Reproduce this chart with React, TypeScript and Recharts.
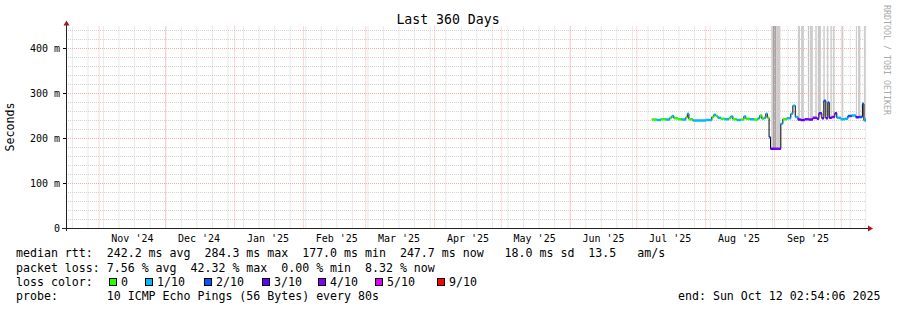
import React from "react";
import { ComposedChart, Line, XAxis, YAxis, ReferenceLine, ReferenceArea } from "recharts";

const FONT = "'DejaVu Sans Mono', monospace";
const DAY = 86400000;
const END = Date.UTC(2025, 9, 12, 2, 54, 6);
const START = END - 360 * DAY;

// median rtt steps (start time, ms, lost pings out of 10)
const sampleTimes = [
  "2025-07-07T18:00", "2025-07-10T00:00", "2025-07-11T19:00", "2025-07-14T01:00", "2025-07-15T20:00",
  "2025-07-16T18:00", "2025-07-17T16:00", "2025-07-19T11:00", "2025-07-21T06:00", "2025-07-23T01:00",
  "2025-07-23T17:00", "2025-07-24T10:00", "2025-07-26T05:00", "2025-07-29T19:00", "2025-08-01T01:00",
  "2025-08-03T18:00", "2025-08-04T16:00", "2025-08-05T13:00", "2025-08-06T11:00", "2025-08-07T19:00",
  "2025-08-09T14:00", "2025-08-11T10:00", "2025-08-12T07:00", "2025-08-13T05:00", "2025-08-15T00:00",
  "2025-08-16T19:00", "2025-08-18T04:00", "2025-08-19T01:00", "2025-08-20T20:00", "2025-08-22T16:00",
  "2025-08-24T11:00", "2025-08-25T08:00", "2025-08-26T06:00", "2025-08-27T04:00", "2025-08-28T01:00",
  "2025-08-28T17:00", "2025-08-29T12:00", "2025-08-30T04:00", "2025-09-01T13:00", "2025-09-03T19:00",
  "2025-09-04T17:00", "2025-09-06T12:00", "2025-09-08T07:00", "2025-09-09T05:00", "2025-09-10T07:00",
  "2025-09-11T11:00", "2025-09-12T19:00", "2025-09-14T14:00", "2025-09-16T10:00", "2025-09-18T05:00",
  "2025-09-20T00:00", "2025-09-20T22:00", "2025-09-22T06:00", "2025-09-23T04:00", "2025-09-24T01:00",
  "2025-09-24T23:00", "2025-09-25T14:00", "2025-09-26T18:00", "2025-09-28T02:00", "2025-09-29T00:00",
  "2025-09-30T19:00", "2025-10-02T14:00", "2025-10-03T23:00", "2025-10-05T18:00", "2025-10-07T13:00",
  "2025-10-08T22:00", "2025-10-10T12:00", "2025-10-11T04:00", "2025-10-12T01:00",
];
const medianRtt = [
  242, 241, 243, 242, 246, 250, 245, 243, 242, 247,
  255, 243, 240, 240, 241, 248, 253, 250, 246, 244,
  243, 245, 249, 243, 241, 242, 249, 244, 243, 242,
  245, 251, 244, 246, 255, 246, 203, 177, 177, 233,
  243, 245, 255, 273, 248, 242, 241, 243, 242, 246,
  244, 256, 245, 284, 245, 280, 246, 248, 256, 246,
  243, 244, 250, 251, 247, 248, 277, 240, 244,
];
const lossLevel = [
  0, 1, 0, 1, 0, 1, 0, 0, 1, 0,
  1, 0, 1, 1, 1, 0, 1, 0, 1, 0,
  1, 0, 1, 0, 1, 0, 1, 0, 1, 0,
  1, 0, 0, 1, 1, 0, 2, 3, 4, 1,
  0, 1, 1, 1, 1, 3, 3, 4, 3, 4,
  3, 4, 3, 2, 3, 2, 3, 4, 3, 1,
  1, 1, 2, 1, 3, 2, 2, 1, 1,
];

// smoke (ping spread) columns reaching off the top
const smokeFrom = [
  "2025-08-30T12:00", "2025-08-31T05:00", "2025-09-01T19:00", "2025-09-11T11:00", "2025-09-12T22:00",
  "2025-09-15T23:00", "2025-09-16T20:00", "2025-09-19T07:00", "2025-09-20T10:00", "2025-09-22T22:00",
  "2025-09-24T12:00", "2025-09-26T02:00", "2025-09-27T05:00", "2025-10-01T06:00", "2025-10-07T13:00",
  "2025-10-08T12:00", "2025-10-11T04:00",
];
const smokeTo = [
  "2025-08-31T05:00", "2025-09-01T19:00", "2025-09-03T14:00", "2025-09-12T10:00", "2025-09-14T04:00",
  "2025-09-16T12:00", "2025-09-18T05:00", "2025-09-19T23:00", "2025-09-21T19:00", "2025-09-23T14:00",
  "2025-09-25T05:00", "2025-09-26T18:00", "2025-09-27T22:00", "2025-10-01T22:00", "2025-10-08T02:00",
  "2025-10-09T14:00", "2025-10-12T00:00",
];
const smokeLow = [177, 177, 177, 245, 245, 245, 245, 248, 248, 250, 250, 248, 248, 244, 248, 248, 244];
const smokeFill = [
  "#cccccc", "#a4a4a4", "#cccccc", "#cccccc", "#cccccc",
  "#c4c4c4", "#cccccc", "#cccccc", "#c4c4c4", "#cccccc",
  "#cccccc", "#cccccc", "#cccccc", "#cccccc", "#cccccc",
  "#cccccc", "#cccccc",
];

const lossLevels = [0, 1, 2, 3, 4, 5, 9];
const lossLabels = ["0", "1/10", "2/10", "3/10", "4/10", "5/10", "9/10"];
const lossColors = ["#26ff00", "#00b8ff", "#0059ff", "#5e00ff", "#7e00ff", "#dd00ff", "#ff0000"];

const monthLabels = ["Nov '24", "Dec '24", "Jan '25", "Feb '25", "Mar '25", "Apr '25", "May '25", "Jun '25", "Jul '25", "Aug '25", "Sep '25"];
const monthStarts = [
  Date.UTC(2024, 10, 1), Date.UTC(2024, 11, 1), Date.UTC(2025, 0, 1), Date.UTC(2025, 1, 1),
  Date.UTC(2025, 2, 1), Date.UTC(2025, 3, 1), Date.UTC(2025, 4, 1), Date.UTC(2025, 5, 1),
  Date.UTC(2025, 6, 1), Date.UTC(2025, 7, 1), Date.UTC(2025, 8, 1), Date.UTC(2025, 9, 1),
];
const labelTicks = monthLabels.map((_, i) => monthStarts[i] + 15 * DAY);

const yTicks = [0, 100, 200, 300, 400];
const minorY = [20, 40, 60, 80, 120, 140, 160, 180, 220, 240, 260, 280, 320, 340, 360, 380, 420, 440];
const weekLines: number[] = [];
for (let t = Date.UTC(2024, 9, 20); t <= END; t += 7 * DAY) weekLines.push(t);

const toMs = (s: string) => new Date(s + "Z").getTime();

// step rows: each sample draws a flat coloured piece, black line joins them
const rows: any[] = [];
sampleTimes.forEach((s, i) => {
  const t0 = toMs(s);
  const t1 = i + 1 < sampleTimes.length ? toMs(sampleTimes[i + 1]) : END;
  const v = medianRtt[i];
  const key = `l${lossLevel[i]}`;
  rows.push({ t: t0, med: v, [key]: v });
  rows.push({ t: t1, med: v, [key]: v });
  rows.push({ t: t1, med: v });
});

const GRID = "#d2d2d2";
const MGRID = "#f4acac";
const ARROW = "#9c1c1c";

const legendRows = [
  { y: 257, text: "median rtt:  242.2 ms avg  284.3 ms max  177.0 ms min  247.7 ms now   18.0 ms sd  13.5   am/s" },
  { y: 271.5, text: "packet loss: 7.56 % avg  42.32 % max  0.00 % min  8.32 % now" },
  { y: 286, text: "loss color:" },
  { y: 300, text: "probe:       10 ICMP Echo Pings (56 Bytes) every 80s" },
];
const boxX = [109, 145, 204, 262, 318, 375, 437];

export default function App() {
  return (
    <div style={{ position: "absolute", left: 0, top: 0, width: 897, height: 310, background: "#fff" }}>
      <ComposedChart
        width={897}
        height={310}
        data={rows}
        margin={{ top: 26, right: 31, bottom: 61.5, left: 0 }}
      >
        <XAxis
          dataKey="t"
          type="number"
          domain={[START, END]}
          allowDataOverflow
          ticks={labelTicks}
          tickFormatter={(v: number) => monthLabels[labelTicks.indexOf(v)] ?? ""}
          axisLine={false}
          tickLine={false}
          tickSize={0}
          tickMargin={6}
          height={20}
          interval={0}
          tick={{ fontFamily: FONT, fontSize: 10, fill: "#000" }}
        />
        <YAxis
          type="number"
          domain={[0, 450]}
          allowDataOverflow
          ticks={yTicks}
          tickFormatter={(v: number) => (v === 0 ? "0" : `${v} m`)}
          axisLine={false}
          tickLine={{ stroke: "#000" }}
          tickSize={3}
          tickMargin={3}
          width={66}
          interval={0}
          tick={{ fontFamily: FONT, fontSize: 10, fill: "#000" }}
        />
        {smokeFrom.map((s, i) => (
          <ReferenceArea
            key={`smoke-${i}`}
            x1={toMs(s)}
            x2={toMs(smokeTo[i])}
            y1={smokeLow[i]}
            y2={450}
            fill={smokeFill[i]}
            fillOpacity={1}
            stroke="none"
          />
        ))}
        {minorY.map((v) => (
          <ReferenceLine key={`gy-${v}`} y={v} stroke={GRID} strokeDasharray="1 1" />
        ))}
        {weekLines.map((t) => (
          <ReferenceLine key={`gx-${t}`} x={t} stroke={GRID} strokeDasharray="1 1" />
        ))}
        {yTicks.slice(1).map((v) => (
          <ReferenceLine key={`my-${v}`} y={v} stroke={MGRID} strokeDasharray="1 1" />
        ))}
        {monthStarts.map((t) => (
          <ReferenceLine key={`mx-${t}`} x={t} stroke={MGRID} strokeDasharray="1 1" />
        ))}
        <Line dataKey="med" type="linear" stroke="#000" strokeWidth={1} dot={false} isAnimationActive={false} />
        {lossLevels.map((lvl, i) => (
          <Line
            key={`loss-${lvl}`}
            dataKey={`l${lvl}`}
            type="linear"
            stroke={lossColors[i]}
            strokeWidth={2.5}
            dot={false}
            isAnimationActive={false}
          />
        ))}
      </ComposedChart>

      <svg width={897} height={310} style={{ position: "absolute", left: 0, top: 0, pointerEvents: "none" }}>
        <text x={448} y={24} textAnchor="middle" fontFamily={FONT} fontSize={13.2} fill="#000">
          Last 360 Days
        </text>
        <text x={13.5} y={127} transform="rotate(-90 13.5 127)" textAnchor="middle" fontFamily={FONT} fontSize={11.6} fill="#000">
          Seconds
        </text>
        <text x={884} y={5} transform="rotate(90 884 5)" fontFamily={FONT} fontSize={8.3} fill="#aaaaaa">
          RRDTOOL / TOBI OETIKER
        </text>

        <line x1={62} y1={228.5} x2={869} y2={228.5} stroke="#222" strokeWidth={1} />
        <polygon points="868,225.5 868,231.5 873,228.5" fill={ARROW} />
        <line x1={66.5} y1={231} x2={66.5} y2={24} stroke="#222" strokeWidth={1} />
        <polygon points="63.5,25.5 69.5,25.5 66.5,20.5" fill={ARROW} />

        {legendRows.map((r) => (
          <text key={r.y} x={16} y={r.y} fontFamily={FONT} fontSize={11.6} fill="#000" style={{ whiteSpace: "pre" }}>
            {r.text}
          </text>
        ))}
        {lossLabels.map((lab, i) => (
          <g key={lab}>
            <rect x={boxX[i] + 0.5} y={278.5} width={7} height={7} fill={lossColors[i]} stroke="#000" strokeWidth={1} />
            <text x={boxX[i] + 12} y={286} fontFamily={FONT} fontSize={11.6} fill="#000">
              {lab}
            </text>
          </g>
        ))}
        <text x={678} y={300} fontFamily={FONT} fontSize={11.6} fill="#000" style={{ whiteSpace: "pre" }}>
          end: Sun Oct 12 02:54:06 2025
        </text>
      </svg>
    </div>
  );
}
